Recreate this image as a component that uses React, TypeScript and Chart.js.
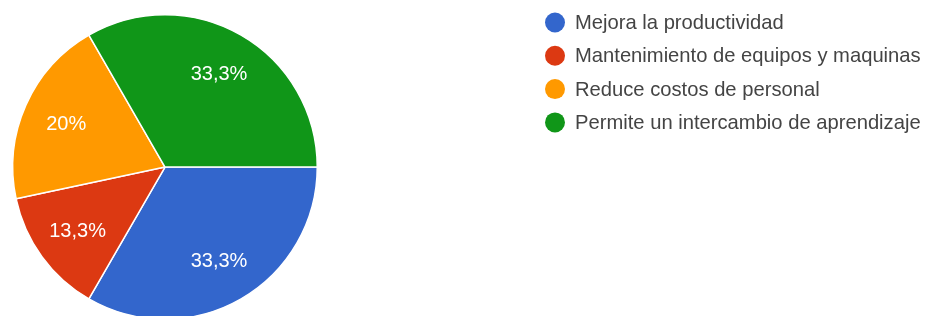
import React, { useEffect, useRef } from "react";
import { Chart, registerables } from "chart.js";

Chart.register(...registerables);

const categories = [
  "Mejora la productividad",
  "Mantenimiento de equipos y maquinas",
  "Reduce costos de personal",
  "Permite un intercambio de aprendizaje",
];
const percentValues = [33.3, 13.3, 20, 33.3];
const sliceColors = ["#3366CC", "#DC3912", "#FF9900", "#109618"];

const FONT = "Arial, 'Liberation Sans', sans-serif";

const sliceLabelPlugin = {
  id: "sliceLabels",
  afterDatasetsDraw(chart: any) {
    const ctx = chart.ctx;
    const meta = chart.getDatasetMeta(0);
    const data = chart.data.datasets[0].data as number[];
    ctx.save();
    ctx.fillStyle = "#ffffff";
    ctx.font = `20px ${FONT}`;
    ctx.textAlign = "center";
    ctx.textBaseline = "middle";
    meta.data.forEach((arc: any, i: number) => {
      const { x, y, startAngle, endAngle, outerRadius } = arc.getProps(
        ["x", "y", "startAngle", "endAngle", "outerRadius"],
        true
      );
      const mid = (startAngle + endAngle) / 2;
      const r = outerRadius * 0.71;
      const txt = String(data[i]).replace(".", ",") + "%";
      ctx.fillText(txt, x + Math.cos(mid) * r, y + Math.sin(mid) * r + 1);
    });
    ctx.restore();
  },
};

const legendPlugin = {
  id: "customLegend",
  afterDraw(chart: any) {
    const ctx = chart.ctx;
    const labels = chart.data.labels as string[];
    const colors = chart.data.datasets[0].backgroundColor as string[];
    ctx.save();
    ctx.font = `20.2px ${FONT}`;
    ctx.textBaseline = "middle";
    ctx.textAlign = "left";
    labels.forEach((label, i) => {
      const cy = 22.5 + i * 33.3;
      ctx.beginPath();
      ctx.fillStyle = colors[i];
      ctx.arc(555, cy, 10, 0, Math.PI * 2);
      ctx.fill();
      ctx.fillStyle = "#444444";
      ctx.fillText(label, 575, cy + 1);
    });
    ctx.restore();
  },
};

export default function App() {
  const canvasRef = useRef<HTMLCanvasElement | null>(null);

  useEffect(() => {
    document.body.style.margin = "0";
    const canvas = canvasRef.current;
    if (!canvas) return;
    const chart = new Chart(canvas, {
      type: "pie",
      data: {
        labels: categories,
        datasets: [
          {
            data: percentValues,
            backgroundColor: sliceColors,
            borderColor: "#ffffff",
            borderWidth: 1.5,
          },
        ],
      },
      options: {
        animation: false,
        responsive: false,
        rotation: 90,
        layout: { padding: { left: 12, top: 14, right: 622, bottom: 20 } },
        plugins: {
          legend: { display: false },
          tooltip: { enabled: false },
        },
      },
      plugins: [sliceLabelPlugin, legendPlugin],
    });
    return () => chart.destroy();
  }, []);

  return (
    <div style={{ width: 940, height: 316, overflow: "hidden", background: "#fff" }}>
      <canvas ref={canvasRef} width={940} height={340} style={{ display: "block" }} />
    </div>
  );
}
